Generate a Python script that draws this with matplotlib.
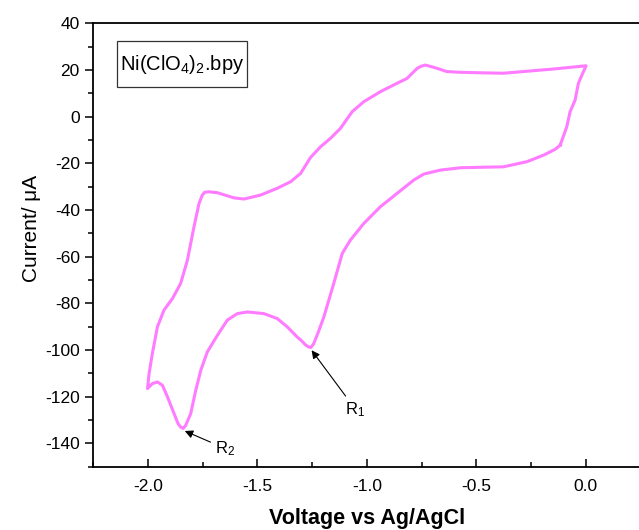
import numpy as np
import matplotlib
matplotlib.use("Agg")
import matplotlib.pyplot as plt
from matplotlib.ticker import MultipleLocator
from matplotlib.patches import Rectangle

plt.rcParams['font.family'] = ['Liberation Sans', 'DejaVu Sans']
plt.rcParams['mathtext.default'] = 'regular'
plt.rcParams['axes.unicode_minus'] = False

# cyclic voltammogram (V vs Ag/AgCl, current in uA)
voltage = [-0.117, -0.140, -0.193, -0.269, -0.376, -0.482, -0.573, -0.664, -0.740, -0.786,
           -0.862, -0.938, -1.014, -1.075, -1.112, -1.151, -1.196, -1.220, -1.242, -1.255,
           -1.265, -1.280, -1.298, -1.318,
           -1.363, -1.409, -1.470, -1.545, -1.591, -1.637, -1.682, -1.728, -1.758, -1.781,
           -1.804, -1.827, -1.838, -1.850, -1.862, -1.880, -1.910, -1.933, -1.956, -1.979, -2.001,
           -1.994, -1.979, -1.956, -1.926, -1.887, -1.850, -1.819, -1.789, -1.766, -1.751,
           -1.740, -1.721, -1.682, -1.607, -1.561, -1.485, -1.409, -1.348, -1.302, -1.257, -1.211,
           -1.166, -1.120, -1.067, -1.014, -0.938, -0.862, -0.816, -0.770, -0.752, -0.733,
           -0.712, -0.679, -0.634, -0.573, -0.482, -0.377, -0.149, 0.001,
           -0.018, -0.034, -0.049, -0.072, -0.087, -0.117]
current = [-12.2, -14.0, -16.5, -19.3, -21.5, -21.7, -21.9, -22.9, -24.6, -27.2,
           -32.9, -38.6, -45.8, -52.9, -58.6, -71.5, -85.8, -92.0, -97.2, -98.9,
           -98.7, -97.8, -96.0, -94.4,
           -90.1, -86.5, -84.4, -83.7, -84.4, -87.2, -93.7, -100.8, -108.7, -117.3,
           -127.3, -132.3, -133.6, -133.0, -131.5, -127.2, -120.1, -115.1, -113.7, -114.4, -116.5,
           -110.1, -101.5, -90.1, -82.9, -77.9, -71.5, -61.5, -47.2, -37.2, -33.6,
           -32.4, -32.2, -32.6, -34.8, -35.3, -33.6, -30.7, -27.9, -24.3, -17.5, -12.9,
           -9.3, -5.0, 2.1, 6.4, 10.7, 14.3, 16.4, 20.7, 21.6, 22.1,
           21.6, 20.7, 19.3, 19.0, 18.8, 18.6, 20.4, 21.8,
           17.8, 14.3, 7.1, 2.1, -4.3, -12.2]

# peak labels: (name, arrow tip, text position)
peak_names = ['R$_1$', 'R$_2$']
peak_tips = [(-1.252, -100.1), (-1.831, -134.7)]
peak_text = [(-1.052, -125.4), (-1.649, -142.1)]

fig = plt.figure(figsize=(6.39, 5.30), dpi=100)
ax = fig.add_axes([93/639, 63.3/530, (640.6-93)/639, (466.7-23.3)/530])

ax.plot(voltage, current, color='#FF7BFF', lw=2.2, solid_joinstyle='round')

for name, tip, txt in zip(peak_names, peak_tips, peak_text):
    ax.annotate(name, xy=tip, xytext=txt, ha='center', va='center', fontsize=12,
                arrowprops=dict(arrowstyle='-|>', color='black', lw=0.8,
                                mutation_scale=12, shrinkA=1, shrinkB=0))

# label box
ax.add_patch(Rectangle((0.0433, 0.8557), 0.2385, 0.1051, transform=ax.transAxes,
                       fc='white', ec='#333333', lw=0.9, zorder=3))
ax.text(0.1625, 0.908, 'Ni(ClO$_4$)$_2$.bpy', transform=ax.transAxes, fontsize=14.5,
        ha='center', va='center', zorder=4)

ax.set_xlim(-2.25, 0.25)
ax.set_ylim(-150, 40)
ax.xaxis.set_major_locator(MultipleLocator(0.5))
ax.xaxis.set_minor_locator(MultipleLocator(0.25))
ax.yaxis.set_major_locator(MultipleLocator(20))
ax.yaxis.set_minor_locator(MultipleLocator(10))
ax.tick_params(axis='x', which='both', direction='in', labelsize=12.5, pad=9)
ax.tick_params(axis='y', which='both', direction='out', labelsize=12.5)
ax.tick_params(which='major', length=6, width=1.1)
ax.tick_params(which='minor', length=3.5, width=1.1)
for s in ax.spines.values():
    s.set_linewidth(1.3)

ax.set_xlabel('Voltage vs Ag/AgCl', fontsize=15.5, fontweight='bold', labelpad=10)
ax.set_ylabel('Current/ μA', fontsize=15)
ax.yaxis.set_label_coords(-0.095, 0.538)

fig.savefig('out.png', dpi=100)
